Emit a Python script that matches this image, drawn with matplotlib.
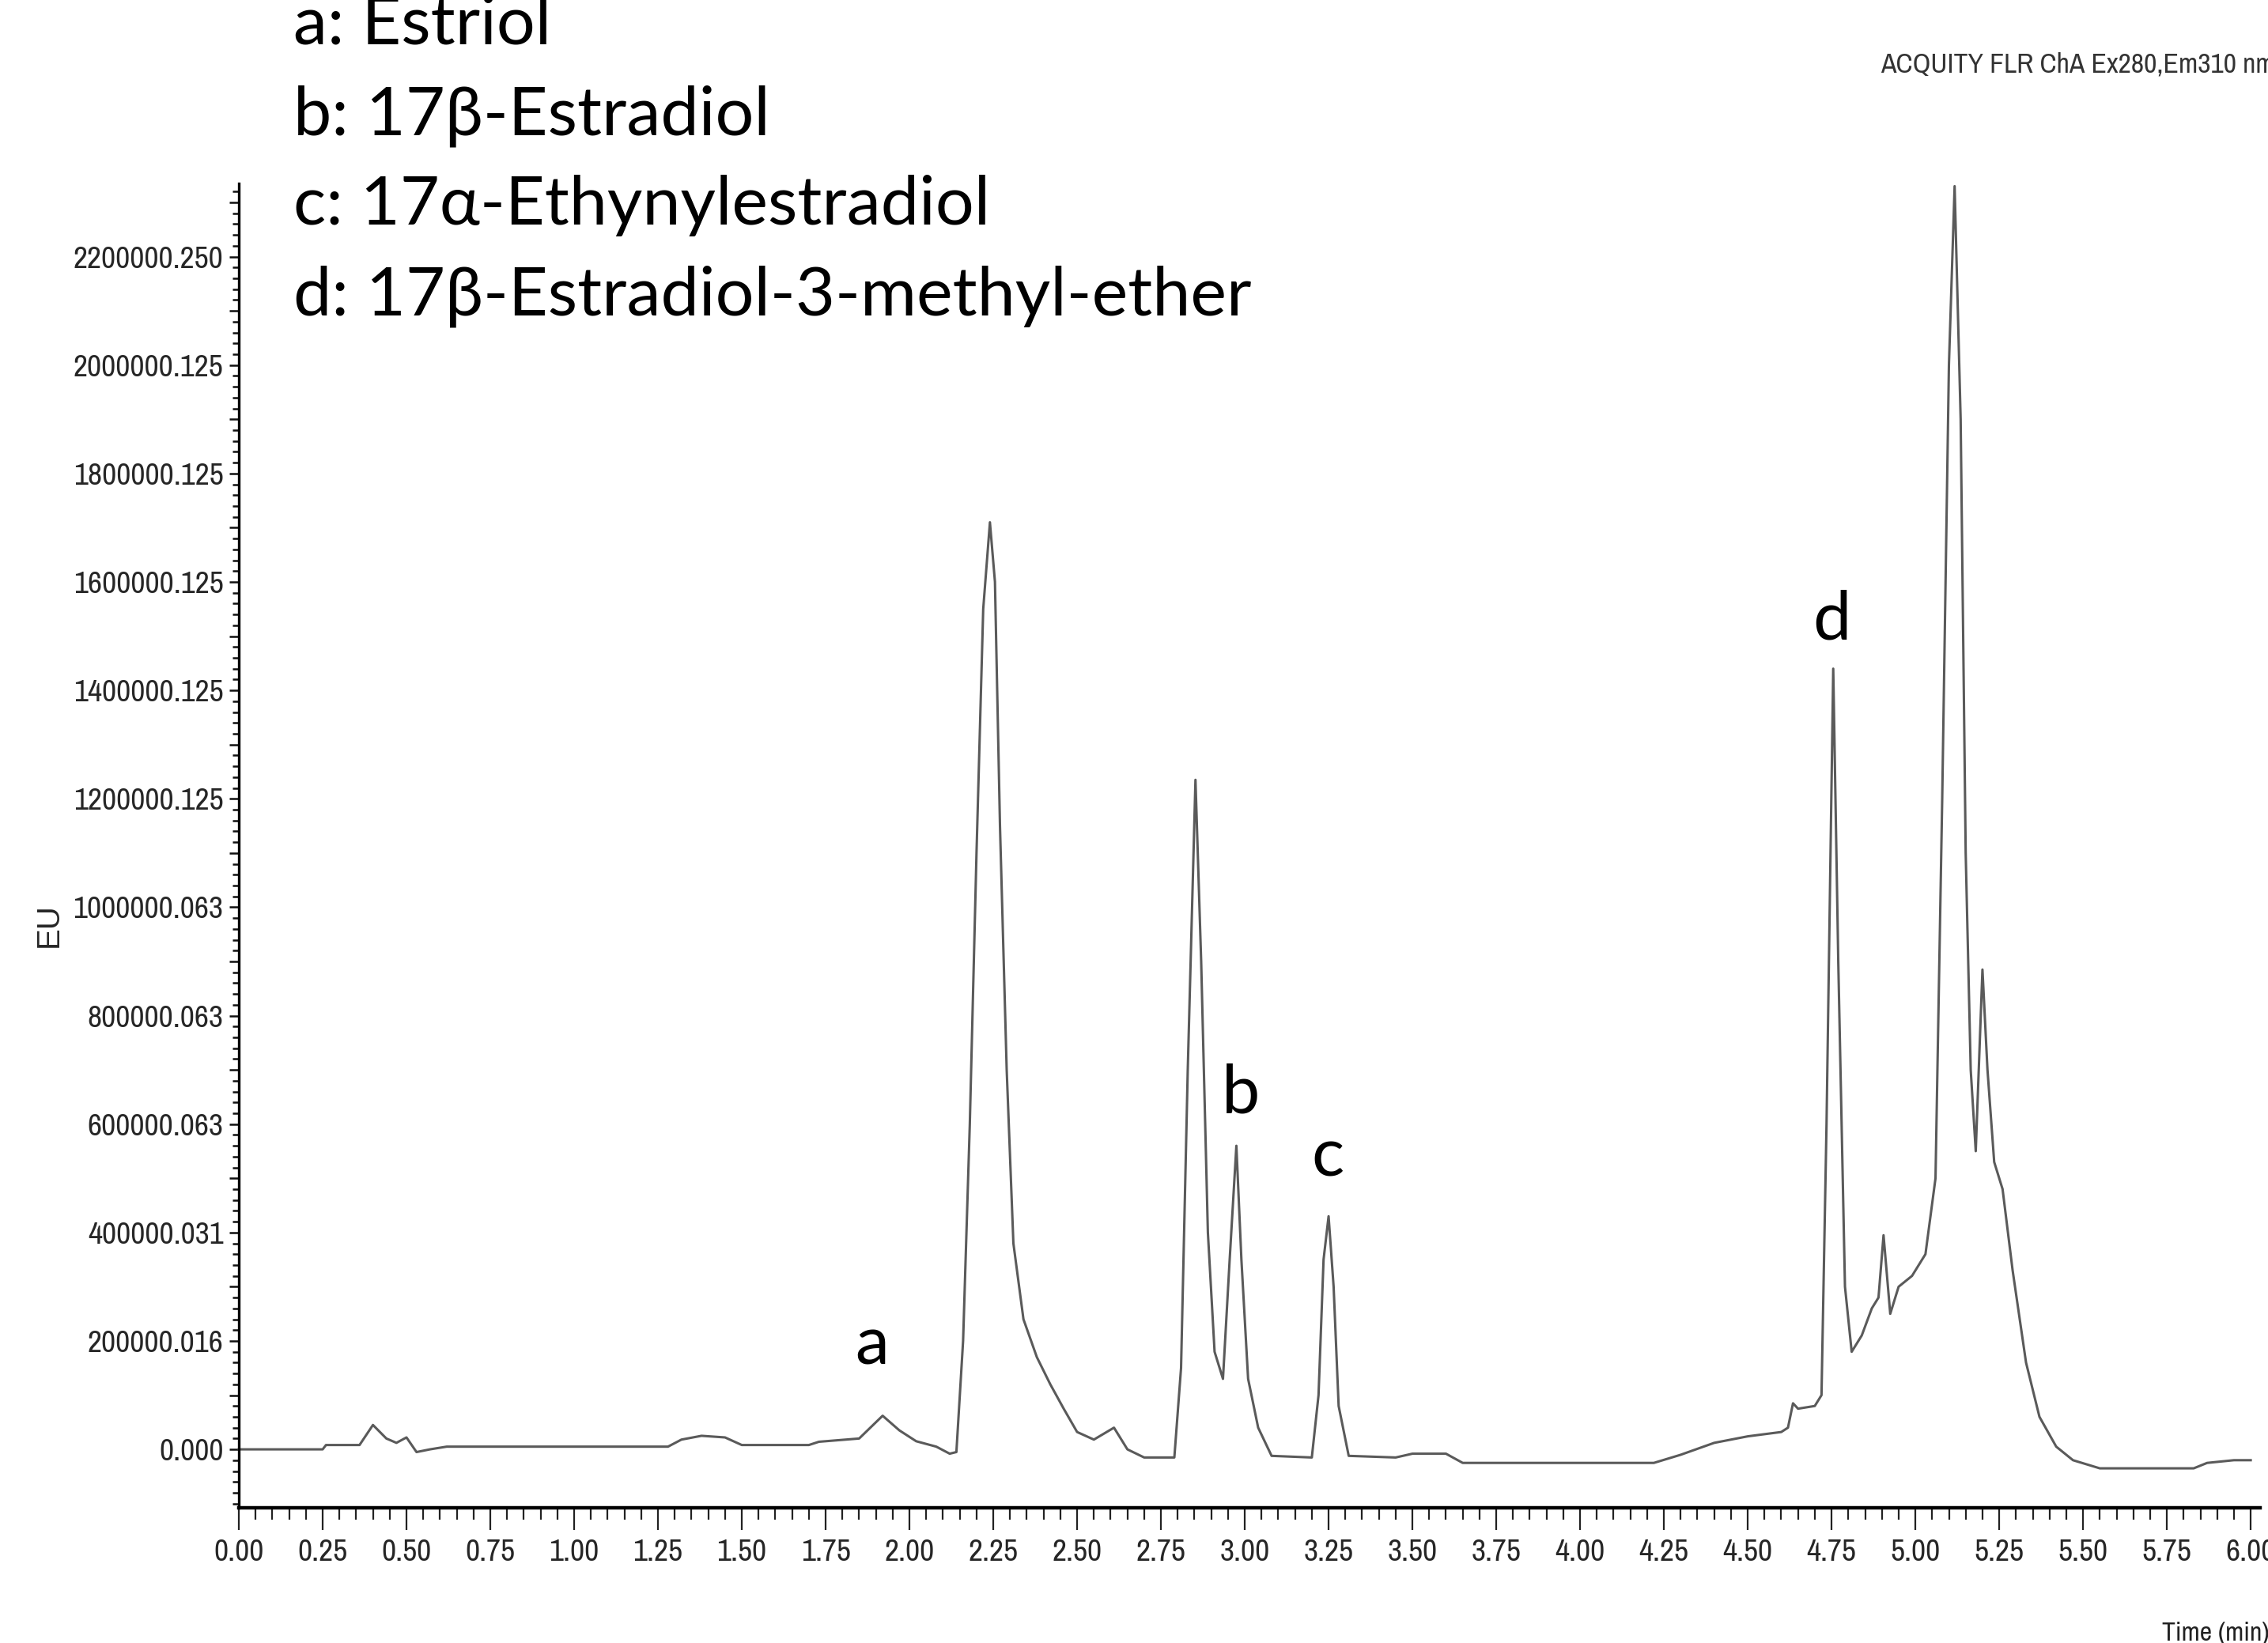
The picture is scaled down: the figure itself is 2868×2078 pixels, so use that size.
import matplotlib
matplotlib.use("Agg")
import matplotlib.pyplot as plt
from matplotlib import font_manager
from matplotlib.font_manager import FontProperties
from matplotlib.ticker import FixedLocator, MultipleLocator

# ---------------- data ----------------
time_min = [0.00, 0.25, 0.26, 0.36, 0.40, 0.44, 0.47, 0.50, 0.53, 0.57, 0.62,
            1.28, 1.32, 1.38, 1.45, 1.50, 1.70, 1.73, 1.85, 1.92, 1.97, 2.02,
            2.08, 2.12, 2.14, 2.16, 2.18, 2.20, 2.22, 2.24, 2.255, 2.27, 2.29,
            2.31, 2.34, 2.38, 2.42, 2.46, 2.50, 2.55, 2.61, 2.65, 2.70, 2.79,
            2.81, 2.83, 2.853, 2.87, 2.89, 2.91, 2.935, 2.955, 2.975, 2.99,
            3.01, 3.04, 3.08, 3.20, 3.22, 3.235, 3.25, 3.265, 3.28, 3.31, 3.45,
            3.50, 3.60, 3.65, 4.22, 4.30, 4.40, 4.50, 4.60, 4.62, 4.635, 4.65,
            4.70, 4.72, 4.735, 4.755, 4.77, 4.79, 4.81, 4.84, 4.87, 4.89, 4.905,
            4.925, 4.95, 4.99, 5.03, 5.06, 5.08, 5.10, 5.117, 5.135, 5.15, 5.165,
            5.18, 5.20, 5.215, 5.235, 5.26, 5.29, 5.33, 5.37, 5.42, 5.47, 5.55,
            5.83, 5.87, 5.95, 6.00]
signal_eu = [0, 0, 8000, 8000, 45000, 20000, 12000, 22000, -5000, 0, 5000,
             5000, 18000, 25000, 22000, 8000, 8000, 14000, 20000, 62000, 35000, 15000,
             5000, -8000, -5000, 200000, 600000, 1100000, 1550000, 1710000, 1600000, 1150000, 700000,
             380000, 240000, 170000, 120000, 75000, 32000, 18000, 40000, 0, -15000, -15000,
             150000, 700000, 1235000, 900000, 400000, 180000, 130000, 350000, 560000, 350000,
             130000, 40000, -12000, -15000, 100000, 350000, 430000, 300000, 80000, -12000, -15000,
             -8000, -8000, -25000, -25000, -10000, 12000, 24000, 32000, 40000, 85000, 75000,
             80000, 100000, 600000, 1440000, 900000, 300000, 180000, 210000, 260000, 280000, 395000,
             250000, 300000, 320000, 360000, 500000, 1200000, 2000000, 2330000, 1900000, 1100000, 700000,
             550000, 885000, 700000, 530000, 480000, 330000, 160000, 60000, 5000, -20000, -35000,
             -35000, -25000, -20000, -20000]

ytick_values = [0, 200000, 400000, 600000, 800000, 1000000, 1200000, 1400000,
                1600000, 1800000, 2000000, 2200000]
ytick_labels = ["0.000", "200000.016", "400000.031", "600000.063", "800000.063",
                "1000000.063", "1200000.125", "1400000.125", "1600000.125",
                "1800000.125", "2000000.125", "2200000.250"]
xtick_values = [0.00, 0.25, 0.50, 0.75, 1.00, 1.25, 1.50, 1.75, 2.00, 2.25, 2.50,
                2.75, 3.00, 3.25, 3.50, 3.75, 4.00, 4.25, 4.50, 4.75, 5.00, 5.25,
                5.50, 5.75, 6.00]
xtick_labels = ["%.2f" % v for v in xtick_values]

legend_lines = ["a: Estriol", "b: 17β-Estradiol", "c: 17α-Ethynylestradiol",
                "d: 17β-Estradiol-3-methyl-ether"]
peak_names = ["a", "b", "c", "d"]
peak_label_time = [1.889, 2.988, 3.248, 4.750]
peak_label_eu = [192000, 655000, 539000, 1529000]

# ---------------- fonts ----------------
stretch_rank = {"ultra-condensed": 0, "extra-condensed": 1, "condensed": 2,
                "semi-condensed": 3}


def pick_narrow():
    best = None
    for f in font_manager.fontManager.ttflist:
        nm = f.name
        if any(k in nm for k in ("Serif", "Mono", "CJK", "Math")):
            continue
        if f.style != "normal":
            continue
        w = f.weight
        if isinstance(w, str):
            if w not in ("normal", "regular", "book", "medium"):
                continue
        elif not (380 <= w <= 500):
            continue
        st = f.stretch if isinstance(f.stretch, str) else ""
        rank = None
        if "Narrow" in nm:
            rank = 0.5
        elif "ExtraCondensed" in nm.replace(" ", "") or st == "extra-condensed":
            rank = 1
        elif "SemiCondensed" in nm.replace(" ", "") or st == "semi-condensed":
            rank = 3
        elif "Condensed" in nm or st == "condensed":
            rank = 2
        elif st in stretch_rank:
            rank = stretch_rank[st]
        if rank is None:
            continue
        if best is None or rank < best[0]:
            best = (rank, f.fname)
    return best[1] if best else None


narrow_path = pick_narrow()
if narrow_path:
    font_manager.fontManager.addfont(narrow_path)
    NP = FontProperties(fname=narrow_path)
else:
    NP = FontProperties(family="DejaVu Sans", stretch="condensed")

avail = {f.name for f in font_manager.fontManager.ttflist}
label_font = "Lato" if "Lato" in avail else "DejaVu Sans"
plain_font = "Liberation Sans" if "Liberation Sans" in avail else "DejaVu Sans"

W, H = 2868, 2078
fig = plt.figure(figsize=(W / 100, H / 100), dpi=100)
ax = fig.add_axes([302 / W, 1 - 1907 / H, (2858 - 302) / W, (1907 - 232) / H])

ax.plot(time_min, signal_eu, color="#5a5a5a", lw=2.2, solid_joinstyle="round",
        clip_on=False)

ax.set_xlim(0, 6.028)
ax.set_ylim(-107800, 2335000)

for s in ["top", "right"]:
    ax.spines[s].set_visible(False)
ax.spines["left"].set_linewidth(2.4)
ax.spines["bottom"].set_linewidth(3.2)

ymaj = list(range(0, 2300001, 100000))
ax.yaxis.set_major_locator(FixedLocator(ymaj))
ylabs = []
for v in ymaj:
    ylabs.append(ytick_labels[ytick_values.index(v)] if v in ytick_values else "")
ax.set_yticklabels(ylabs)
ax.yaxis.set_minor_locator(MultipleLocator(20000))
ax.xaxis.set_major_locator(FixedLocator(xtick_values))
ax.set_xticklabels(xtick_labels)
ax.xaxis.set_minor_locator(MultipleLocator(0.05))

ax.tick_params(axis="y", which="major", direction="out", length=9, width=1.8,
               pad=5, labelcolor="#262626", color="#111111")
ax.tick_params(axis="y", which="minor", direction="out", length=6, width=1.8,
               color="#111111")
ax.tick_params(axis="x", which="major", direction="out", length=20, width=1.6,
               pad=8, labelcolor="#262626", color="#222222")
ax.tick_params(axis="x", which="minor", direction="out", length=11, width=1.6,
               color="#222222")

# size tick labels so "2200000.250" spans ~188 px as in the reference
probe = fig.text(0, 0, "2200000.250", fontproperties=NP, fontsize=30)
fig.canvas.draw()
r = fig.canvas.get_renderer()
pw = probe.get_window_extent(r).width
tick_fs = 30 * 188 / pw
probe.remove()
for lab in ax.get_yticklabels() + ax.get_xticklabels():
    lab.set_fontproperties(NP)
    lab.set_fontsize(tick_fs)

# y label
fig.text(62 / W, 1 - 1170 / H, "EU", rotation=90, ha="center", va="center",
         fontsize=29, color="#262626", family=[plain_font, "DejaVu Sans"])

# header / footer texts
hdr = fig.text(2378 / W, 1 - 82 / H, "ACQUITY FLR ChA Ex280,Em310 nm", ha="left",
               va="center", fontproperties=NP, fontsize=24, color="#333333")
tm = fig.text(2734 / W, 1 - 2066 / H, "Time (min)", ha="left", va="center",
              fontproperties=NP, fontsize=tick_fs * 0.86, color="#222222")

# legend lines
baselines = [55, 170, 284, 399]
leg = []
for txt, b in zip(legend_lines, baselines):
    leg.append(fig.text(371 / W, 1 - b / H, txt, ha="left", va="baseline",
                        fontsize=50, color="black", family=[label_font, "DejaVu Sans"]))

peaks = []
for n, t, v in zip(peak_names, peak_label_time, peak_label_eu):
    peaks.append(ax.text(t, v, n, ha="center", va="center", fontsize=50,
                         color="black", family=[label_font, "DejaVu Sans"]))

# fit font sizes to measured widths in the reference
fig.canvas.draw()
wd = leg[3].get_window_extent(r).width
scale = 1211 / wd
for t in leg + peaks:
    t.set_fontsize(50 * scale)
wh = hdr.get_window_extent(r).width
hdr.set_fontsize(24 * 500 / wh)

fig.savefig("out.png", dpi=100, facecolor="white")
